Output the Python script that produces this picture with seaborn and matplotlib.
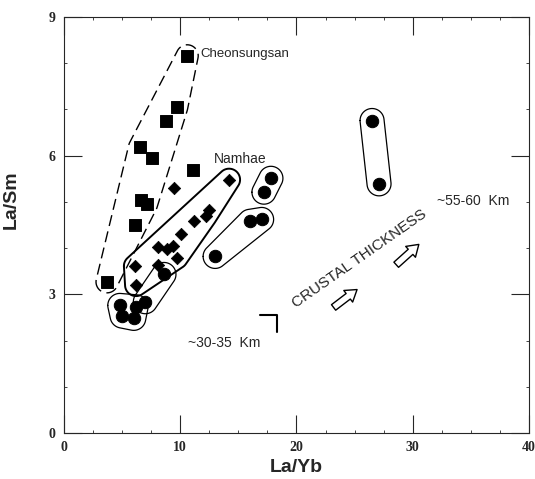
import numpy as np
import pandas as pd
import matplotlib
matplotlib.use("Agg")
import matplotlib.pyplot as plt
import seaborn as sns
from matplotlib.ticker import MultipleLocator

# ---------------- data ----------------
# Cheonsungsan (squares); 1 = inside the dashed envelope
sq_layb = [10.6, 9.7, 8.8, 6.5, 7.6, 11.1, 6.6, 7.1, 6.1, 3.7]
sq_lasm = [8.16, 7.05, 6.74, 6.18, 5.95, 5.70, 5.03, 4.95, 4.49, 3.27]
sq_group = [1, 1, 1, 1, 1, 0, 1, 1, 1, 1]

# Namhae (diamonds); 1 = inside the solid envelope
dia_layb = [14.2, 12.5, 12.2, 11.2, 10.1, 9.5, 8.1, 8.9, 9.4, 9.7, 6.1, 8.1, 6.2]
dia_lasm = [5.48, 4.82, 4.69, 4.58, 4.31, 5.29, 4.02, 3.97, 4.04, 3.79, 3.61, 3.63, 3.20]
dia_group = [1, 1, 1, 1, 1, 0, 1, 1, 1, 1, 1, 1, 1]

# other samples (circles); number = which envelope they share
circ_layb = [26.5, 27.1, 17.8, 17.2, 16.0, 17.0, 13.0, 8.6, 7.0, 4.8, 5.0, 6.2, 6.0]
circ_lasm = [6.76, 5.39, 5.51, 5.21, 4.58, 4.62, 3.82, 3.43, 2.84, 2.76, 2.53, 2.73, 2.48]
circ_group = [1, 1, 2, 2, 3, 3, 3, 4, 4, 5, 5, 5, 5]

x_ticks = [0, 10, 20, 30, 40]
y_ticks = [0, 3, 6, 9]

sq = pd.DataFrame({"La/Yb": sq_layb, "La/Sm": sq_lasm, "grp": sq_group})
dia = pd.DataFrame({"La/Yb": dia_layb, "La/Sm": dia_lasm, "grp": dia_group})
circ = pd.DataFrame({"La/Yb": circ_layb, "La/Sm": circ_lasm, "grp": circ_group})

sns.set_style("ticks")
plt.rcParams["font.family"] = ["Liberation Sans", "DejaVu Sans"]

fig = plt.figure(figsize=(5.35, 4.79), dpi=100)
ax = fig.add_axes([0.1196, 0.096, 0.8692, 0.8686])
ax.set_xlim(0, 40)
ax.set_ylim(0, 9)


def hull(points):
    # monotone chain convex hull
    pts = sorted(map(tuple, points))
    def cross(o, a, b):
        return (a[0] - o[0]) * (b[1] - o[1]) - (a[1] - o[1]) * (b[0] - o[0])
    lower, upper = [], []
    for p in pts:
        while len(lower) >= 2 and cross(lower[-2], lower[-1], p) <= 0:
            lower.pop()
        lower.append(p)
    for p in reversed(pts):
        while len(upper) >= 2 and cross(upper[-2], upper[-1], p) <= 0:
            upper.pop()
        upper.append(p)
    return np.array(lower[:-1] + upper[:-1])


def envelope(df, r_px, **kw):
    pts = ax.transData.transform(df[["La/Yb", "La/Sm"]].to_numpy())
    ang = np.linspace(0, 2 * np.pi, 60, endpoint=False)
    ring = np.column_stack([np.cos(ang), np.sin(ang)]) * r_px
    cloud = (pts[:, None, :] + ring[None, :, :]).reshape(-1, 2)
    h = hull(cloud)
    h = np.vstack([h, h[:1]])
    h = ax.transData.inverted().transform(h)
    ax.plot(h[:, 0], h[:, 1], color="black", **kw)


envelope(sq[sq.grp == 1], 11, lw=1.0, linestyle=(0, (8, 4)))
envelope(dia[dia.grp == 1], 11, lw=1.4)
for g in sorted(circ.grp.unique()):
    envelope(circ[circ.grp == g], 12, lw=0.9)

sns.scatterplot(data=sq, x="La/Yb", y="La/Sm", marker="s", s=70, color="black",
                edgecolor="black", ax=ax, zorder=3)
sns.scatterplot(data=dia, x="La/Yb", y="La/Sm", marker="D", s=40, color="black",
                edgecolor="black", ax=ax, zorder=3)
sns.scatterplot(data=circ, x="La/Yb", y="La/Sm", marker="o", s=80, color="black",
                edgecolor="black", ax=ax, zorder=3)

# annotations
ax.text(11.7, 8.2, "Cheonsungsan", fontsize=9.5, va="center")
ax.text(12.9, 5.93, "Namhae", fontsize=10, va="center")
ax.text(10.7, 1.94, "~30-35  Km", fontsize=10, va="center")
ax.text(32.1, 5.01, "~55-60  Km", fontsize=10, va="center")
ax.plot([16.9, 18.3, 18.3], [2.55, 2.55, 2.19], color="black", lw=1.5)
ax.text(25.4, 3.78, "CRUSTAL THICKNESS", fontsize=11, rotation=35,
        rotation_mode="anchor", ha="center", va="center")
arrow = dict(arrowstyle="simple,head_length=0.8,head_width=1.05,tail_width=0.5",
             fc="white", ec="black", lw=1.0)
ax.annotate("", xy=(25.4, 3.14), xytext=(23.0, 2.68), arrowprops=arrow)
ax.annotate("", xy=(30.7, 4.12), xytext=(28.4, 3.60), arrowprops=arrow)

# axes
ax.set_xticks(x_ticks, labels=[str(t) for t in x_ticks], fontfamily="Liberation Serif",
              fontweight="bold", fontsize=10)
ax.set_yticks(y_ticks, labels=[str(t) for t in y_ticks], fontfamily="Liberation Serif",
              fontweight="bold", fontsize=10)
ax.xaxis.set_minor_locator(MultipleLocator(2.5))
ax.yaxis.set_minor_locator(MultipleLocator(1))
ax.tick_params(which="major", direction="in", length=13, width=0.8,
               top=True, right=True, pad=6)
ax.tick_params(which="minor", direction="in", length=2, width=0.6, top=True, right=True)
for s in ax.spines.values():
    s.set_visible(True)
    s.set_linewidth(0.8)

ax.set_xlabel("La/Yb", fontsize=14, fontweight="bold")
ax.set_ylabel("La/Sm", fontsize=14, fontweight="bold")
ax.xaxis.set_label_coords(0.5, -0.062)
ax.yaxis.set_label_coords(-0.095, 0.56)

fig.savefig("out.png", dpi=100)
